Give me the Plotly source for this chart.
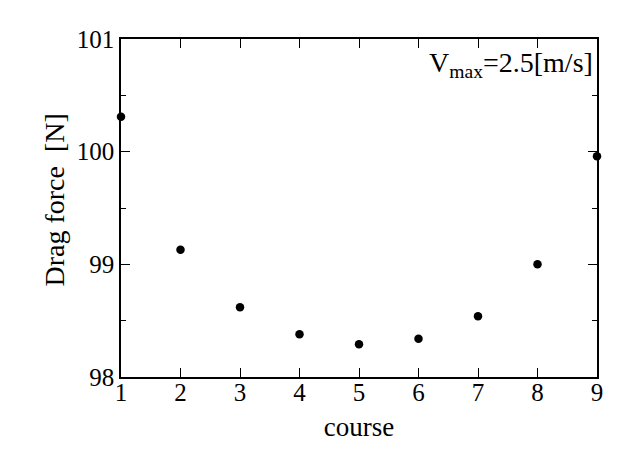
import plotly.graph_objects as go

course = [1, 2, 3, 4, 5, 6, 7, 8, 9]
drag_force = [100.31, 99.13, 98.62, 98.38, 98.29, 98.34, 98.54, 99.0, 99.96]
x_ticks = [1, 2, 3, 4, 5, 6, 7, 8, 9]
y_ticks = [98, 99, 100, 101]

font_family = "Liberation Serif, Times New Roman, serif"

fig = go.Figure()
fig.add_trace(go.Scatter(
    x=course, y=drag_force, mode="markers",
    marker=dict(color="black", size=8.5),
    cliponaxis=False, showlegend=False,
))

fig.update_layout(
    width=634, height=460,
    margin=dict(l=121, r=37, t=39, b=83),
    paper_bgcolor="white", plot_bgcolor="white",
    font=dict(family=font_family, size=25, color="black"),
    xaxis=dict(
        range=[1, 9], tickvals=x_ticks, ticks="inside", ticklen=9,
        tickwidth=1, tickcolor="black", showline=True, linecolor="black",
        linewidth=1.5, mirror="allticks", showgrid=False, zeroline=False,
        title=dict(text="course", font=dict(size=27), standoff=12),
        tickfont=dict(size=25), ticklabelstandoff=-8,
    ),
    yaxis=dict(
        range=[98, 101], tickvals=y_ticks, ticks="inside", ticklen=9,
        tickwidth=1, tickcolor="black", showline=True, linecolor="black",
        linewidth=1.5, mirror="allticks", showgrid=False, zeroline=False,
        minor=dict(dtick=0.5, ticks="inside", ticklen=5, tickcolor="black", showgrid=False),
        tickfont=dict(size=25),
    ),
    annotations=[
        dict(
            x=1, y=1, xref="paper", yref="paper", xanchor="right", yanchor="top",
            xshift=-2, yshift=-6,
            text="V<sub>max</sub>=2.5[m/s]", showarrow=False,
            font=dict(size=28, family=font_family, color="black"),
        ),
        dict(
            x=0, y=0.522, xref="paper", yref="paper", xanchor="center", yanchor="middle",
            xshift=-66, textangle=-90,
            text="Drag force  [N]", showarrow=False,
            font=dict(size=28, family=font_family, color="black"),
        ),
    ],
)

fig.write_html(
    "out.html",
    config={"displayModeBar": False},
    post_script="document.body.style.margin='0';document.documentElement.style.margin='0';",
)
